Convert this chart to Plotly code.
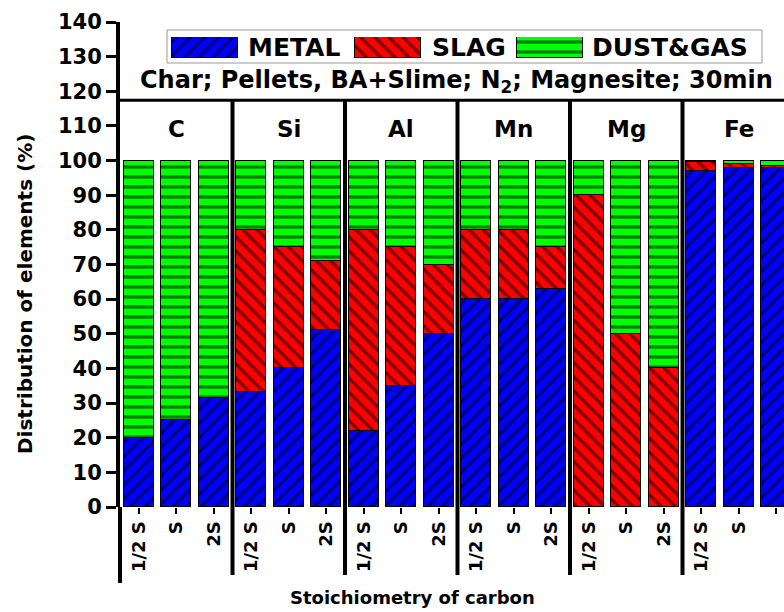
import plotly.graph_objects as go

# ---------------- data ----------------
elements = ["C", "Si", "Al", "Mn", "Mg", "Fe"]
stoich = ["1/2 S", "S", "2S"]
metal = [20, 25, 31.5, 33.3, 40, 51, 22, 35, 50, 60, 60, 63, 0, 0, 0, 97, 98, 98]
slag = [0, 0, 0, 46.7, 35, 20, 58, 40, 20, 20, 20, 12, 90, 50, 40, 2.5, 1, 0.5]
dust = [80, 75, 68.5, 20, 25, 29, 20, 25, 30, 20, 20, 25, 10, 50, 60, 0.5, 1, 1.5]
series_names = ["METAL", "SLAG", "DUST&GAS"]
subtitle = "Char; Pellets, BA+Slime; N<sub>2</sub>; Magnesite; 30min"

# ---------------- styles ----------------
FONT = "DejaVu Sans"
colors = ["#0000FF", "#FF0000", "#00FF00"]
shapes_pat = ["/", "\\", "-"]
n_grp = len(stoich)
n = len(elements) * n_grp
x = list(range(n))
ticktext = stoich * len(elements)

L, R, T, B = 120, 0, 22, 105
W, H = 784, 612
plot_h = H - T - B
plot_w = W - L - R
YMAX = 140
HEADER = 117.4
X0 = -0.5
XSPAN = plot_w / 37.5  # category units visible
X1 = X0 + XSPAN


def py(px):  # pixel y -> paper y
    return (H - B - px) / plot_h


def pxx(px):  # pixel x -> paper x
    return (px - L) / plot_w


fig = go.Figure()
for name, vals, col, pat in zip(series_names, [metal, slag, dust], colors, shapes_pat):
    fig.add_trace(go.Bar(
        x=x, y=vals, name=name, width=0.8,
        marker=dict(color=col, line=dict(color="black", width=1.5),
                    pattern=dict(shape=pat, fgcolor="black", size=10, solidity=0.33)),
        showlegend=False,
    ))

# legend swatches (drawn as small bars in a helper axis, pixel units)
sw_x = [205, 387.5, 549.5]
for name, col, pat, sx in zip(series_names, colors, shapes_pat, sw_x):
    fig.add_trace(go.Bar(
        x=[sx], y=[1], width=66, xaxis="x3", yaxis="y3", showlegend=False,
        marker=dict(color=col, line=dict(color="black", width=1),
                    pattern=dict(shape=pat, fgcolor="black", size=10, solidity=0.33)),
        hoverinfo="skip",
    ))

shapes = []
# header line
shapes.append(dict(type="line", xref="paper", yref="y", x0=0, x1=1, y0=HEADER, y1=HEADER,
                   line=dict(color="black", width=3)))
# group separators
for g in range(1, len(elements)):
    xs = g * n_grp - 0.5
    shapes.append(dict(type="line", xref="x", yref="paper", x0=xs, x1=xs,
                       y0=py(575), y1=HEADER / YMAX, line=dict(color="black", width=4)))
# left axis extension below
shapes.append(dict(type="line", xref="paper", yref="paper", x0=0, x1=0,
                   y0=py(583), y1=0, line=dict(color="black", width=4)))
# legend box
shapes.append(dict(type="rect", xref="paper", yref="paper", x0=pxx(167), x1=pxx(762),
                   y0=py(63), y1=py(30), line=dict(color="#999999", width=1)))

annotations = []
for g, el in enumerate(elements):
    annotations.append(dict(x=g * n_grp + 1, y=109, xref="x", yref="y", text=el,
                            showarrow=False, font=dict(family=FONT, size=23, color="black", weight="bold")))
for name, px in zip(series_names, [246, 430, 590]):
    annotations.append(dict(x=pxx(px), y=py(47), xref="paper", yref="paper", text=name,
                            xanchor="left", yanchor="middle", showarrow=False,
                            font=dict(family=FONT, size=25, color="black", weight="bold")))
annotations.append(dict(x=pxx(138), y=py(81), xref="paper", yref="paper", text=subtitle,
                        xanchor="left", yanchor="middle", showarrow=False,
                        font=dict(family=FONT, size=24, color="black", weight="bold")))
annotations.append(dict(x=pxx(412), y=py(597), xref="paper", yref="paper",
                        text="Stoichiometry of carbon", showarrow=False,
                        xanchor="center", yanchor="middle",
                        font=dict(family=FONT, size=18, color="black", weight="bold")))
annotations.append(dict(x=pxx(25), y=py(294), xref="paper", yref="paper",
                        text="Distribution of elements (%)", textangle=-90, showarrow=False,
                        xanchor="center", yanchor="middle",
                        font=dict(family=FONT, size=20, color="black", weight="bold")))

fig.update_layout(
    width=W, height=H,
    margin=dict(l=L, r=R, t=T, b=B),
    paper_bgcolor="white", plot_bgcolor="white",
    barmode="stack", bargap=0,
    font=dict(family=FONT, color="black"),
    xaxis=dict(range=[X0, X1], tickmode="array", tickvals=x, ticktext=ticktext,
               tickangle=-90, ticks="outside", ticklen=6, tickwidth=2, tickcolor="black",
               tickfont=dict(family=FONT, size=18, color="black", weight="bold"),
               showline=False, showgrid=False, zeroline=False),
    xaxis2=dict(overlaying="x", side="top", anchor="y", range=[0, plot_w / 66.7],
                tickmode="array", tickvals=list(range(1, 10)), ticks="inside", ticklen=8,
                tickwidth=3, tickcolor="black", showticklabels=False,
                showline=True, linewidth=3, linecolor="black", showgrid=False, zeroline=False),
    yaxis=dict(range=[0, YMAX], dtick=10, ticks="outside", ticklen=10, tickwidth=3,
               tickcolor="black", showline=True, linewidth=4, linecolor="black",
               tickfont=dict(family=FONT, size=21, color="black", weight="bold"),
               showgrid=False, zeroline=False),
    xaxis3=dict(domain=[0, 1], range=[L, W], anchor="y3", visible=False, fixedrange=True),
    yaxis3=dict(domain=[py(58), py(37)], range=[0, 1], anchor="x3", visible=False, fixedrange=True),
    shapes=shapes, annotations=annotations,
)

fig.write_html("out.html")
